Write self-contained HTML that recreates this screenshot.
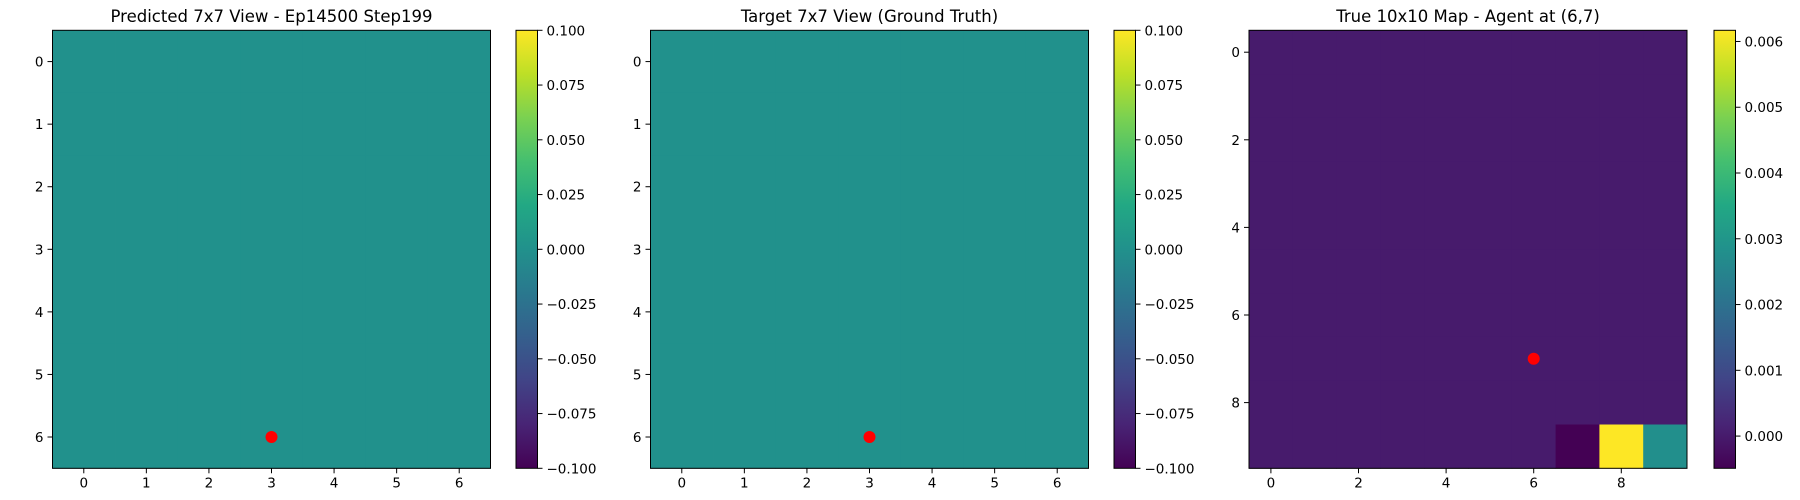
<!DOCTYPE html>
<html><head><meta charset="utf-8">
<style>
html,body{margin:0;padding:0;background:#fff;}
svg{display:block;font-family:"DejaVu Sans","Liberation Sans",sans-serif;}
</style></head>
<body>
<svg id="fig" width="1800" height="500" viewBox="0 0 1800 500" xmlns="http://www.w3.org/2000/svg"></svg>
<script>
// ---- data ----
const panelTitles = ["Predicted 7x7 View - Ep14500 Step199", "Target 7x7 View (Ground Truth)", "True 10x10 Map - Agent at (6,7)"];
const predGrid = [
 [0,0,0,0,0,0,0],[0,0,0,0,0,0,0],[0,0,0,0,0,0,0],[0,0,0,0,0,0,0],
 [0,0,0,0,0,0,0],[0,0,0,0,0,0,0],[0,0,0,0,0,0,0]];
const targetGrid = [
 [0,0,0,0,0,0,0],[0,0,0,0,0,0,0],[0,0,0,0,0,0,0],[0,0,0,0,0,0,0],
 [0,0,0,0,0,0,0],[0,0,0,0,0,0,0],[0,0,0,0,0,0,0]];
const trueMap = [
 [0,0,0,0,0,0,0,0,0,0],[0,0,0,0,0,0,0,0,0,0],[0,0,0,0,0,0,0,0,0,0],
 [0,0,0,0,0,0,0,0,0,0],[0,0,0,0,0,0,0,0,0,0],[0,0,0,0,0,0,0,0,0,0],
 [0,0,0,0,0,0,0,0,0,0],[0,0,0,0,0,0,0,0,0,0],[0,0,0,0,0,0,0,0,0,0],
 [0,0,0,0,0,0,0,-0.00049,0.00617,0.0028]];
const agentPos7 = [3,6];
const agentPos10 = [6,7];
const axisTicks7 = [0,1,2,3,4,5,6];
const axisTicks10 = [0,2,4,6,8];
const cbTicks7 = [-0.1,-0.075,-0.05,-0.025,0,0.025,0.05,0.075,0.1];
const cbLabels7 = ["\u22120.100","\u22120.075","\u22120.050","\u22120.025","0.000","0.025","0.050","0.075","0.100"];
const cbTicks10 = [0,0.001,0.002,0.003,0.004,0.005,0.006];
const cbLabels10 = ["0.000","0.001","0.002","0.003","0.004","0.005","0.006"];

// ---- viridis ----
const VIR = ["#440154","#482475","#414487","#355f8d","#2a788e","#21918c","#22a884","#44bf70","#7ad151","#bddf26","#fde725"];
function hex(h){return [1,3,5].map(i=>parseInt(h.substr(i,2),16));}
function viridis(t){
  t=Math.max(0,Math.min(1,t)); const p=t*10, i=Math.min(9,Math.floor(p)), f=p-i;
  const a=hex(VIR[i]), b=hex(VIR[i+1]);
  return "rgb("+a.map((v,k)=>Math.round(v+(b[k]-v)*f)).join(",")+")";
}
const NS="http://www.w3.org/2000/svg";
const svg=document.getElementById("fig");
function mk(tag,attrs,parent){const e=document.createElementNS(NS,tag);for(const k in attrs)e.setAttribute(k,attrs[k]);(parent||svg).appendChild(e);return e;}

let gradId=0;
function panel(cfg){
  const g=mk("g",{});
  
  
  const n=cfg.grid.length, L=cfg.left, T=30.3, S=438;
  const sx=v=>L+(v+0.5)/n*S, sy=v=>T+(v+0.5)/n*S;
  const col=v=>viridis((v-cfg.vmin)/(cfg.vmax-cfg.vmin));
  // title
  const t=mk("text",{x:L+S/2,y:22,"text-anchor":"middle","font-size":"16.5px",fill:"#000"},g);
  t.textContent=cfg.title;
  
  
  // cells
  for(let r=0;r<n;r++)for(let c=0;c<n;c++){
    const rc=mk("rect",{x:sx(c-0.5),y:sy(r-0.5),width:sx(c+0.5)-sx(c-0.5)+0.4,height:sy(r+0.5)-sy(r-0.5)+0.4,fill:col(cfg.grid[r][c])},g);
    
    
  }
  // agent
  const dot=mk("circle",{cx:sx(cfg.agent[0]),cy:sy(cfg.agent[1]),r:6,fill:"#ff0000"},g);
  
  
  const fr=mk("rect",{x:L,y:T,width:S,height:S,fill:"none",stroke:"#000","stroke-width":1},g);
  
  
  // ticks
  cfg.ticks.forEach(v=>{
    mk("line",{x1:sx(v),x2:sx(v),y1:T+S,y2:T+S+5,stroke:"#000"},g);
    const xl=mk("text",{x:sx(v),y:T+S+19,"text-anchor":"middle","font-size":"13.5px"},g);
    xl.textContent=v;
    
    
    mk("line",{x1:L-5,x2:L,y1:sy(v),y2:sy(v),stroke:"#000"},g);
    const yl=mk("text",{x:L-9,y:sy(v)+5,"text-anchor":"end","font-size":"13.5px"},g);
    yl.textContent=v;
    
    
  });
  // colorbar
  const CX=cfg.cbx, CW=21.5;
  const id="vg"+(gradId++);
  const defs=mk("defs",{},g);
  const lg=mk("linearGradient",{id:id,x1:0,y1:1,x2:0,y2:0},defs);
  VIR.forEach((c,i)=>mk("stop",{offset:(i/10),"stop-color":c},lg));
  const cb=mk("rect",{x:CX,y:T,width:CW,height:S,fill:"url(#"+id+")",stroke:"#000","stroke-width":1},g);
  
  
  const cy=v=>T+S-(v-cfg.vmin)/(cfg.vmax-cfg.vmin)*S;
  cfg.cbTicks.forEach((v,i)=>{
    mk("line",{x1:CX+CW,x2:CX+CW+5,y1:cy(v),y2:cy(v),stroke:"#000"},g);
    const cl=mk("text",{x:CX+CW+9,y:cy(v)+5,"font-size":"13.5px"},g);
    cl.textContent=cfg.cbLabels[i];
    
    
  });
}
panel({name:"predicted-view-panel",title:panelTitles[0],grid:predGrid,agent:agentPos7,left:52.5,cbx:516,vmin:-0.1,vmax:0.1,ticks:axisTicks7,cbTicks:cbTicks7,cbLabels:cbLabels7});
panel({name:"target-view-panel",title:panelTitles[1],grid:targetGrid,agent:agentPos7,left:650.5,cbx:1114,vmin:-0.1,vmax:0.1,ticks:axisTicks7,cbTicks:cbTicks7,cbLabels:cbLabels7});
panel({name:"true-map-panel",title:panelTitles[2],grid:trueMap,agent:agentPos10,left:1249,cbx:1714,vmin:-0.00049,vmax:0.00617,ticks:axisTicks10,cbTicks:cbTicks10,cbLabels:cbLabels10});
</script>
</body></html>
